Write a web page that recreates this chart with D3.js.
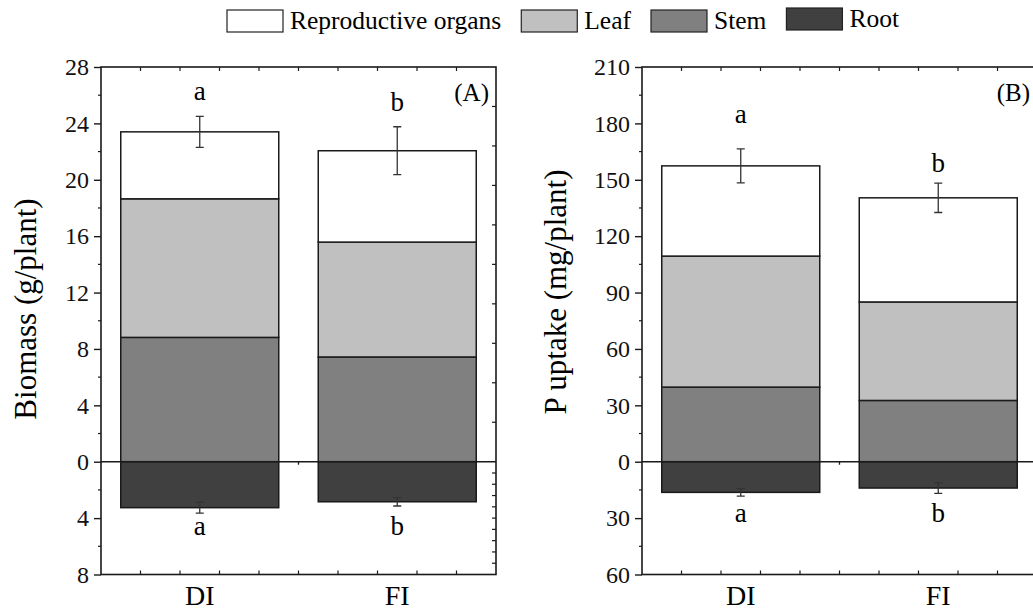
<!DOCTYPE html>
<html>
<head>
<meta charset="utf-8">
<script src="https://cdn.jsdelivr.net/npm/d3@7"></script>
<style>
  body { margin: 0; background: #fff; }
  svg { font-family: "Liberation Serif", "Times New Roman", serif; }
</style>
</head>
<body>
<svg id="chart" width="1033" height="611"></svg>
<script>
// categories and legend
let groups = ["DI", "FI"];
let parts = ["Reproductive organs", "Leaf", "Stem", "Root"];
let partColors = ["#ffffff", "#c0c0c0", "#808080", "#404040"];

// panel A: biomass (g/plant), segment heights
let biomassStem = [8.82, 7.43];
let biomassLeaf = [9.83, 8.15];
let biomassRepro = [4.75, 6.48];
let biomassRoot = [3.26, 2.84];
let biomassErr = [1.1, 1.7];
let biomassRootErr = [0.39, 0.3];
let biomassLetters = ["a", "b"];
let biomassLetterY = [25.65, 24.85];
let biomassRootLetters = ["a", "b"];
let biomassRootLetterY = [-5.2, -5.2];
let biomassTicks = [-8, -4, 0, 4, 8, 12, 16, 20, 24, 28];

// panel B: P uptake (mg/plant)
let pStem = [39.7, 32.6];
let pLeaf = [69.7, 52.4];
let pRepro = [48.0, 55.4];
let pRoot = [16.3, 14.0];
let pErr = [9.0, 7.8];
let pRootErr = [2.0, 2.8];
let pLetters = ["a", "b"];
let pLetterY = [180.2, 154.1];
let pRootLetters = ["a", "b"];
let pRootLetterY = [-32, -32];
let pTicks = [-60, -30, 0, 30, 60, 90, 120, 150, 180, 210];

let svg = d3.select("#chart");
let top_ = 67, bottom_ = 574.5, plotW = 395;
let frameColor = "#1a1a1a";

function drawPanel(p) {
    let g = svg.append("g");
    let x = d3.scaleLinear().domain([0.5, 2.5]).range([p.left, p.left + plotW]);
    let y = d3.scaleLinear().domain([p.ticks[0], p.ticks[p.ticks.length - 1]]).range([bottom_, top_]);
    let barW = x(1.4) - x(0.6);

    let rows = groups.map((gr, i) => ({
        group: gr, i: i,
        "Stem": p.stem[i], "Leaf": p.leaf[i], "Reproductive organs": p.repro[i]
    }));
    let stack = d3.stack().keys(["Stem", "Leaf", "Reproductive organs"])(rows);

    stack.forEach(layer => {
        g.append("g")
            .attr("fill", partColors[parts.indexOf(layer.key)])
            .attr("stroke", frameColor)
            .attr("stroke-width", 1.5)
            .selectAll("rect")
            .data(layer)
            .join("rect")
            .attr("x", d => x(d.data.i + 1) - barW / 2)
            .attr("y", d => y(d[1]))
            .attr("width", barW)
            .attr("height", d => y(d[0]) - y(d[1]));
    });

    // root bars go below zero
    g.append("g")
        .attr("fill", partColors[3])
        .attr("stroke", frameColor)
        .attr("stroke-width", 1.5)
        .selectAll("rect")
        .data(p.root)
        .join("rect")
        .attr("x", (d, i) => x(i + 1) - barW / 2)
        .attr("y", y(0))
        .attr("width", barW)
        .attr("height", d => y(-d) - y(0));

    // zero line
    g.append("line")
        .attr("x1", x(0.5)).attr("x2", x(2.5))
        .attr("y1", y(0)).attr("y2", y(0))
        .attr("stroke", frameColor).attr("stroke-width", 1.6);
    g.append("line")
        .attr("x1", x(1.5)).attr("x2", x(1.5))
        .attr("y1", y(0)).attr("y2", y(0) + 3)
        .attr("stroke", frameColor).attr("stroke-width", 1.3);

    // error bars
    let errs = [];
    groups.forEach((gr, i) => {
        let total = p.stem[i] + p.leaf[i] + p.repro[i];
        errs.push({i: i, lo: total - p.err[i], hi: total + p.err[i]});
        errs.push({i: i, lo: -p.root[i] - p.rootErr[i], hi: -p.root[i] + p.rootErr[i]});
    });
    let eb = g.append("g").attr("stroke", "#333").attr("stroke-width", 1.3).attr("fill", "none");
    eb.selectAll("path")
        .data(errs)
        .join("path")
        .attr("d", d => {
            let cx = x(d.i + 1);
            return `M${cx - 4},${y(d.hi)}H${cx + 4}M${cx},${y(d.hi)}V${y(d.lo)}M${cx - 4},${y(d.lo)}H${cx + 4}`;
        });

    // significance letters
    g.append("g")
        .attr("font-size", 27)
        .attr("text-anchor", "middle")
        .selectAll("text")
        .data(p.letters.map((l, i) => ({l: l, i: i, v: p.letterY[i]}))
            .concat(p.rootLetters.map((l, i) => ({l: l, i: i, v: p.rootLetterY[i]}))))
        .join("text")
        .attr("x", d => x(d.i + 1))
        .attr("y", d => y(d.v))
        .text(d => d.l);

    // frame
    g.append("rect")
        .attr("x", x(0.5)).attr("y", top_)
        .attr("width", plotW).attr("height", bottom_ - top_)
        .attr("fill", "none").attr("stroke", frameColor).attr("stroke-width", 1.6);

    // left axis
    let axisL = g.append("g")
        .attr("transform", `translate(${x(0.5)},0)`)
        .call(d3.axisLeft(y).tickValues(p.ticks).tickSize(7).tickPadding(5)
            .tickFormat(d => Math.abs(d)));
    axisL.select(".domain").remove();
    axisL.selectAll("line").attr("stroke", frameColor).attr("stroke-width", 1.4);
    axisL.selectAll("text").attr("font-size", 24).attr("font-family", "Liberation Serif").attr("fill", "#111");

    let step = p.ticks[1] - p.ticks[0];
    let minors = p.ticks.slice(0, -1).map(t => t + step / 2);
    g.append("g").selectAll("line").data(minors).join("line")
        .attr("x1", x(0.5) - 3).attr("x2", x(0.5))
        .attr("y1", d => y(d)).attr("y2", d => y(d))
        .attr("stroke", frameColor).attr("stroke-width", 1.2);

    // right axis ticks: ten divisions each side of zero, pointing inward
    let yMax = p.ticks[p.ticks.length - 1], yMin = p.ticks[0];
    let rightTicks = d3.range(1, 10).map(k => k * yMax / 10)
        .concat(d3.range(1, 10).map(k => k * yMin / 10));
    g.append("g").selectAll("line").data(rightTicks).join("line")
        .attr("x1", x(2.5) - 4).attr("x2", x(2.5))
        .attr("y1", d => y(d)).attr("y2", d => y(d))
        .attr("stroke", frameColor).attr("stroke-width", 1.2);

    // top and bottom inward ticks
    let xt = d3.range(0.7, 2.4, 0.2);
    g.append("g").selectAll("line").data(xt).join("line")
        .attr("x1", d => x(d)).attr("x2", d => x(d))
        .attr("y1", top_).attr("y2", top_ + 4)
        .attr("stroke", frameColor).attr("stroke-width", 1.2);
    g.append("g").selectAll("line").data(xt).join("line")
        .attr("x1", d => x(d)).attr("x2", d => x(d))
        .attr("y1", bottom_).attr("y2", bottom_ - 4)
        .attr("stroke", frameColor).attr("stroke-width", 1.2);

    // category labels
    g.append("g")
        .attr("font-size", 28)
        .attr("text-anchor", "middle")
        .selectAll("text")
        .data(groups)
        .join("text")
        .attr("x", (d, i) => x(i + 1))
        .attr("y", 605)
        .text(d => d);

    // panel tag
    g.append("text")
        .attr("x", x(2.5) - 7)
        .attr("y", 101)
        .attr("text-anchor", "end")
        .attr("font-size", 25)
        .text(p.tag);

    // y title
    g.append("text")
        .attr("transform", `translate(${p.titleX},${p.titleY}) rotate(-90)`)
        .attr("text-anchor", "middle")
        .attr("font-size", p.titleSize)
        .text(p.title);
}

drawPanel({
    left: 101, ticks: biomassTicks,
    stem: biomassStem, leaf: biomassLeaf, repro: biomassRepro, root: biomassRoot,
    err: biomassErr, rootErr: biomassRootErr,
    letters: biomassLetters, letterY: biomassLetterY,
    rootLetters: biomassRootLetters, rootLetterY: biomassRootLetterY,
    tag: "(A)", title: "Biomass (g/plant)", titleX: 36, titleY: 309, titleSize: 31
});

drawPanel({
    left: 642, ticks: pTicks,
    stem: pStem, leaf: pLeaf, repro: pRepro, root: pRoot,
    err: pErr, rootErr: pRootErr,
    letters: pLetters, letterY: pLetterY,
    rootLetters: pRootLetters, rootLetterY: pRootLetterY,
    tag: "(B)", title: "P uptake (mg/plant)", titleX: 566, titleY: 292, titleSize: 31
});

// legend across the top
let legend = svg.append("g").attr("font-size", 25.5);
let lx = 227;
parts.forEach((name, i) => {
    let dy = name === "Root" ? -2 : 0;
    legend.append("rect")
        .attr("x", lx).attr("y", 10 + dy)
        .attr("width", 56).attr("height", 22)
        .attr("fill", partColors[i])
        .attr("stroke", "#222").attr("stroke-width", 1.2);
    let t = legend.append("text")
        .attr("x", lx + 63).attr("y", 29 + dy)
        .text(name);
    lx += 63 + t.node().getComputedTextLength() + 20;
});
</script>
</body>
</html>
